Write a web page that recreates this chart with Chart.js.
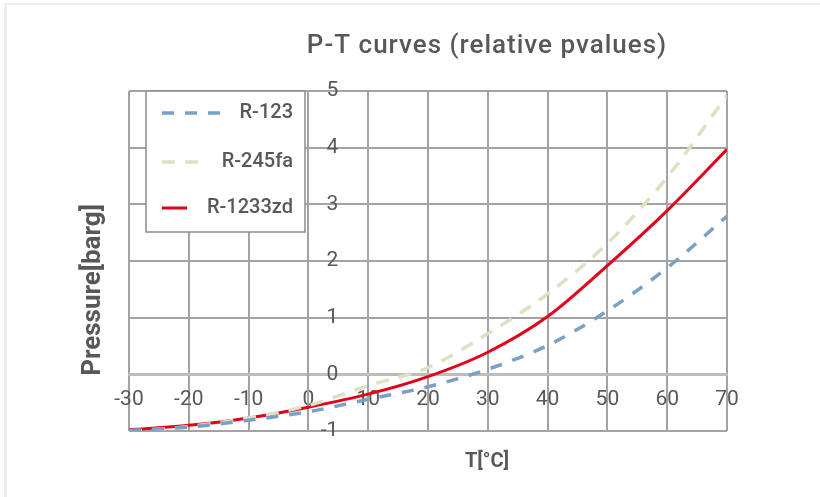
<!DOCTYPE html>
<html>
<head>
<meta charset="utf-8">
<script src="https://cdn.jsdelivr.net/npm/chart.js@4.4.1/dist/chart.umd.min.js"></script>
<style>
  html, body { margin: 0; padding: 0; background: #fff; }
  #wrap { position: relative; width: 820px; height: 497px; overflow: hidden; }
  #frame { position: absolute; left: 4px; top: 3px; right: 0; bottom: 0;
           border-top: 2px solid #ededed; border-left: 3px solid #ededed; }
  canvas { position: absolute; left: 0; top: 0; }
</style>
</head>
<body>
<div id="wrap">
  <div id="frame"></div>
  <canvas id="c" width="820" height="497"></canvas>
</div>
<script>
// ---- data ----
const temperatures = [-30, -20, -10, 0, 10, 20, 30, 40, 50, 60, 70];
const r123    = [-0.99, -0.93, -0.81, -0.66, -0.44, -0.22, 0.09, 0.51, 1.12, 1.88, 2.79];
const r245fa  = [-1.01, -0.92, -0.77, -0.55, -0.20, 0.12, 0.72, 1.42, 2.31, 3.48, 4.92];
const r1233zd = [-0.98, -0.90, -0.77, -0.58, -0.35, -0.04, 0.39, 1.02, 1.92, 2.89, 3.97];
const seriesNames = ['R-123', 'R-245fa', 'R-1233zd'];
const chartTitle = 'P-T curves (relative pvalues)';
const xTitle = 'T[°C]';
const yTitle = 'Pressure[barg]';

const FONT = 'Roboto, "DejaVu Sans", sans-serif';
const TXT = '#585858';

function pts(vals) { return temperatures.map((t, i) => ({ x: t, y: vals[i] })); }

const legendSpec = [
  { len: 63, y: 113 },
  { len: 40, y: 162 },
  { len: 25, y: 208 }
];

const decorPlugin = {
  id: 'decor',
  afterDraw(chart) {
    const ctx = chart.ctx;
    ctx.save();
    // chart title
    ctx.fillStyle = TXT;
    ctx.textAlign = 'center';
    ctx.textBaseline = 'middle';
    ctx.font = '500 26px ' + FONT;
    try { ctx.letterSpacing = '1px'; } catch (e) {}
    ctx.fillText(chartTitle, 487, 46);
    try { ctx.letterSpacing = '0px'; } catch (e) {}
    // x title
    ctx.font = 'bold 20px ' + FONT;
    ctx.fillText(xTitle, 487, 462);
    // y title
    ctx.save();
    ctx.translate(93, 290);
    ctx.rotate(-Math.PI / 2);
    ctx.font = 'bold 26px ' + FONT;
    ctx.fillText(yTitle, 0, 0);
    ctx.restore();

    // legend box
    ctx.fillStyle = '#ffffff';
    ctx.fillRect(146, 91, 159, 141);
    ctx.strokeStyle = '#8c8c8c';
    ctx.lineWidth = 1.5;
    ctx.strokeRect(146, 91, 159, 141);
    chart.data.datasets.forEach((ds, i) => {
      const s = legendSpec[i];
      ctx.beginPath();
      ctx.strokeStyle = ds.borderColor;
      ctx.lineWidth = ds.borderWidth;
      ctx.setLineDash(ds.borderDash || []);
      ctx.moveTo(162, s.y);
      ctx.lineTo(162 + s.len, s.y);
      ctx.stroke();
      ctx.setLineDash([]);
      ctx.fillStyle = TXT;
      ctx.textAlign = 'right';
      ctx.textBaseline = 'middle';
      ctx.font = '500 20px ' + FONT;
      ctx.fillText(ds.label, 293, s.y);
    });

    // y tick labels, placed on the right side of the y axis (which crosses at x = 0)
    const ys = chart.scales.y, xs = chart.scales.x;
    const ax = xs.getPixelForValue(0);
    ctx.font = '21px ' + FONT;
    ctx.fillStyle = TXT;
    ctx.textAlign = 'right';
    ctx.textBaseline = 'middle';
    ys.ticks.forEach(t => {
      ctx.fillText(String(t.value), ax + 30, ys.getPixelForValue(t.value));
    });
    ctx.restore();
  }
};

new Chart(document.getElementById('c'), {
  type: 'line',
  data: {
    datasets: [
      { label: seriesNames[0], data: pts(r123), borderColor: '#78a1c5', borderWidth: 3.5,
        borderDash: [12, 11], pointRadius: 0, cubicInterpolationMode: 'monotone', fill: false },
      { label: seriesNames[1], data: pts(r245fa), borderColor: '#dfdfc2', borderWidth: 3.5,
        borderDash: [13, 10], pointRadius: 0, cubicInterpolationMode: 'monotone', fill: false },
      { label: seriesNames[2], data: pts(r1233zd), borderColor: '#e2001a', borderWidth: 3,
        pointRadius: 0, cubicInterpolationMode: 'monotone', fill: false }
    ]
  },
  options: {
    responsive: false,
    animation: false,
    layout: { padding: { left: 129, right: 93, top: 91, bottom: 66 } },
    plugins: { legend: { display: false }, title: { display: false }, tooltip: { enabled: false } },
    scales: {
      x: {
        type: 'linear', min: -30, max: 70,
        position: { y: 0 },
        ticks: { stepSize: 10, color: TXT, font: { family: FONT, size: 21 }, padding: 13, maxRotation: 0 },
        grid: { color: '#a3a3a3', lineWidth: 2, drawTicks: false },
        border: { color: '#bdbdbd', width: 3 }
      },
      y: {
        type: 'linear', min: -1, max: 5,
        position: { x: 0 },
        ticks: { stepSize: 1, display: false },
        grid: { color: '#a3a3a3', lineWidth: 2, drawTicks: false },
        border: { color: '#a3a3a3', width: 2 }
      }
    }
  },
  plugins: [decorPlugin]
});
</script>
</body>
</html>
